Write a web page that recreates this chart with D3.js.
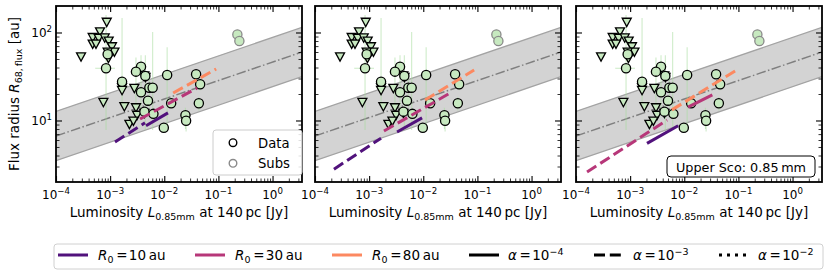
<!DOCTYPE html>
<html><head><meta charset="utf-8">
<script src="https://cdn.jsdelivr.net/npm/d3@7"></script>
<style>body{margin:0;background:#fff;} svg{font-family:"DejaVu Sans",sans-serif;}</style>
</head><body><svg id="c" width="831" height="276"></svg>
<script>
// ---------- DATA ----------
// detections (circles)
const detL = [9.0e-4, 8.4e-4, 3.72e-3, 3.0e-3, 4.47e-3, 1.66e-3, 5.3e-3, 6.1e-3, 3.72e-3, 5.0e-3, 4.3e-3, 6.3e-3, 1.13e-2, 1.34e-2, 3.87e-2, 4.6e-2, 4.35e-2, 2.46e-2, 2.53e-2, 9.8e-3];
const detR = [56.5, 39.2, 40.8, 35.9, 32.1, 27.6, 23.6, 23.6, 20.9, 16.8, 12.6, 11.9, 32.9, 15.7, 33.5, 25.8, 15.7, 11.5, 9.95, 8.28];
// upper limits (down triangles)
const ulL = [8.65e-4, 6.5e-4, 4.76e-4, 6.15e-4, 7.94e-4, 4.76e-4, 5.48e-4, 9.4e-4, 1.08e-3, 1.2e-3, 9.0e-4, 9.3e-4, 2.9e-4, 1.66e-3, 1.66e-3, 2.8e-3, 4.28e-3, 4.5e-3, 7.5e-4, 1.83e-3, 3.0e-3, 4.3e-3, 3.14e-3, 2.27e-3, 2.69e-3];
const ulR = [131, 102, 88, 86, 87, 74, 74, 80, 69, 60, 60, 51, 53, 23.6, 22.0, 23.2, 32.3, 31, 16.1, 14.4, 14.0, 12.1, 11.5, 9.06, 9.87];
// substructured discs
const subL = [0.224, 0.244];
const subR = [95, 80];
// vertical error bars
const errL  = [8.4e-4, 1.66e-3, 6.1e-3, 1.13e-2, 3.0e-3, 3.72e-3, 4.47e-3, 2.46e-2, 2.53e-2, 9.8e-3, 4.6e-2, 4.35e-2, 5.3e-3];
const errLo = [7.8, 15, 7.8, 7.4, 10.7, 12, 7.8, 8, 7.5, 7.4, 22, 13, 14];
const errHi = [158, 146, 101, 68, 52, 55, 55, 14, 13, 9.5, 30, 18.5, 30];
// horizontal error bars
const xerrR = [39.2];
const xerrLo = [5.3e-4];
const xerrHi = [1.23e-3];
// size-luminosity relation: R = A * L^B, scatter in dex
const relA = 46.1, relB = 0.21, relScatter = 0.28;
// model tracks
const tracksPanel = [0,0,0,0, 1,1,1,1, 2,2,2,2];
const tracksR0    = [10,10,30,80, 10,10,30,80, 30,30,10,80];
const tracksAlpha = [-3,-4,-3,-3, -3,-4,-3,-3, -3,-4,-4,-3];
const tracksLstart = [1.23e-3, 4.6e-3, 3.57e-3, 1.46e-2, 2.24e-4, 3.28e-3, 1.88e-3, 1.08e-2, 1.6e-4, 1.17e-2, 2.05e-3, 5.9e-3];
const tracksLend   = [4.4e-3, 1.17e-2, 4.04e-2, 9.1e-2, 1.66e-3, 9.5e-3, 3.4e-2, 8.7e-2, 4.8e-3, 3.3e-2, 7.7e-3, 8.7e-2];
const tracksRstart = [5.7, 8.7, 10.4, 20.5, 2.8, 7.4, 7.6, 17.1, 2.6, 14.2, 5.5, 13.2];
const tracksRend   = [9.4, 12.2, 23.4, 38.5, 6.3, 10.7, 21.1, 37.5, 10.1, 19.5, 8.7, 36.5];
// tick labels
const xTickExp = [-4, -3, -2, -1, 0];
const yTickExp = [1, 2];
const legendR0 = [10, 30, 80];
const legendAlpha = [-4, -3, -2];

// ---------- STYLE ----------
const colorR0 = {10: "#51127c", 30: "#b73779", 80: "#fc8961"};
const dashAlpha = {"-4": null, "-3": "11,4.8", "-2": "3,5"};
const ptFill = "#c7e9c0";

const svg = d3.select("#c");
const panelLeft = [56, 315, 576], pw = 246, pTop = 6, ph = 176;
const x = d3.scaleLog().domain([1e-4, 3.5]).range([0, pw]);
const y = d3.scaleLog().domain([2, 200]).range([ph, 0]);

const xMajor = xTickExp.map(e => Math.pow(10, e));
const xMinor = [];
for (let e = -4; e <= 0; e++) for (let k = 2; k <= 9; k++) { const v = k * Math.pow(10, e); if (v < 3.5) xMinor.push(v); }
const yMajor = yTickExp.map(e => Math.pow(10, e));
const yMinor = [];
for (let e = 0; e <= 2; e++) for (let k = 2; k <= 9; k++) { const v = k * Math.pow(10, e); if (v > 2 && v < 200) yMinor.push(v); }

const triPath = "M0,4.4L-4.5,-3.9L4.5,-3.9Z";

panelLeft.forEach((pl, p) => {
  const g = svg.append("g").attr("transform", `translate(${pl},${pTop})`);
  g.append("clipPath").attr("id", "clip" + p).append("rect").attr("width", pw).attr("height", ph);
  const inner = g.append("g").attr("clip-path", `url(#clip${p})`);

  // band
  const bL = x.domain();
  const rel = (L, off) => relA * Math.pow(L, relB) * Math.pow(10, off);
  const area = d3.area().x(d => x(d)).y0(d => y(rel(d, -relScatter))).y1(d => y(rel(d, relScatter)));
  inner.append("path").datum(bL).attr("d", area).attr("fill", "#d3d3d3");
  [-relScatter, relScatter].forEach(off => {
    inner.append("path").datum(bL).attr("d", d3.line().x(d => x(d)).y(d => y(rel(d, off))))
      .attr("stroke", "#a3a3a3").attr("stroke-width", 1.3).attr("fill", "none");
  });
  inner.append("path").datum(bL).attr("d", d3.line().x(d => x(d)).y(d => y(rel(d, 0))))
    .attr("stroke", "#7f7f7f").attr("stroke-width", 1.5).attr("fill", "none").attr("stroke-dasharray", "9.6,2.4,1.5,2.4");

  // error bars
  errL.forEach((L, i) => {
    inner.append("line").attr("x1", x(L)).attr("x2", x(L)).attr("y1", y(errLo[i])).attr("y2", y(errHi[i]))
      .attr("stroke", "#a8dc9f").attr("stroke-opacity", 0.55).attr("stroke-width", 1.1);
  });
  xerrR.forEach((R, i) => {
    inner.append("line").attr("x1", x(xerrLo[i])).attr("x2", x(xerrHi[i])).attr("y1", y(R)).attr("y2", y(R))
      .attr("stroke", "#a8dc9f").attr("stroke-opacity", 0.55).attr("stroke-width", 1.1);
  });

  // upper limits
  ulL.forEach((L, i) => {
    inner.append("path").attr("d", triPath).attr("transform", `translate(${x(L)},${y(ulR[i])})`)
      .attr("fill", ptFill).attr("stroke", "#000").attr("stroke-width", 1.3);
  });
  // detections
  detL.forEach((L, i) => {
    inner.append("circle").attr("cx", x(L)).attr("cy", y(detR[i])).attr("r", 4.6)
      .attr("fill", ptFill).attr("stroke", "#000").attr("stroke-width", 1.3);
  });
  subL.forEach((L, i) => {
    inner.append("circle").attr("cx", x(L)).attr("cy", y(subR[i])).attr("r", 4.6)
      .attr("fill", ptFill).attr("stroke", "#8a8a8a").attr("stroke-width", 1.3);
  });

  // model tracks
  tracksPanel.forEach((tp, i) => {
    if (tp !== p) return;
    const pts = [[tracksLstart[i], tracksRstart[i]], [tracksLend[i], tracksRend[i]]];
    const l = inner.append("path").datum(pts).attr("d", d3.line().x(d => x(d[0])).y(d => y(d[1])))
      .attr("stroke", colorR0[tracksR0[i]]).attr("stroke-width", 3).attr("fill", "none");
    const da = dashAlpha[String(tracksAlpha[i])];
    if (da) l.attr("stroke-dasharray", da);
  });

  // ticks (inward, all sides)
  const tk = (axis, tr, vals, size, w) => {
    const a = g.append("g").attr("transform", tr).call(axis.tickValues(vals).tickSize(-size).tickFormat(""));
    a.select(".domain").remove();
    a.selectAll("line").attr("stroke", "#000").attr("stroke-width", w);
  };
  tk(d3.axisBottom(x), `translate(0,${ph})`, xMajor, 6, 1.1);
  tk(d3.axisBottom(x), `translate(0,${ph})`, xMinor, 3.5, 0.8);
  tk(d3.axisTop(x), `translate(0,0)`, xMajor, 6, 1.1);
  tk(d3.axisTop(x), `translate(0,0)`, xMinor, 3.5, 0.8);
  tk(d3.axisLeft(y), `translate(0,0)`, yMajor, 6, 1.1);
  tk(d3.axisLeft(y), `translate(0,0)`, yMinor, 3.5, 0.8);
  tk(d3.axisRight(y), `translate(${pw},0)`, yMajor, 6, 1.1);
  tk(d3.axisRight(y), `translate(${pw},0)`, yMinor, 3.5, 0.8);

  // frame
  g.append("rect").attr("width", pw).attr("height", ph).attr("fill", "none").attr("stroke", "#000").attr("stroke-width", 1.8);

  // x tick labels
  xTickExp.forEach(e => {
    const t = g.append("text").attr("x", x(Math.pow(10, e))).attr("y", ph + 16.5).attr("text-anchor", "middle").attr("font-size", 12);
    t.append("tspan").text("10");
    t.append("tspan").attr("dy", -5).attr("font-size", 8.6).text(e < 0 ? "\u2212" + (-e) : String(e));
  });
  // y tick labels
  if (p === 0) {
    yTickExp.forEach(e => {
      const t = g.append("text").attr("x", -4).attr("y", y(Math.pow(10, e)) + 4.5).attr("text-anchor", "end").attr("font-size", 12);
      t.append("tspan").text("10");
      t.append("tspan").attr("dy", -5).attr("font-size", 8.6).text(String(e));
    });
  }
  // x label
  const xl = g.append("text").attr("x", pw / 2).attr("y", ph + 35).attr("text-anchor", "middle").attr("font-size", 13.5);
  xl.append("tspan").text("Luminosity ");
  xl.append("tspan").attr("font-style", "italic").text("L");
  xl.append("tspan").attr("dy", 3).attr("font-size", 9.5).text("0.85mm");
  xl.append("tspan").attr("dy", -3).text(" at 140\u2009pc [Jy]");

  if (p === 0) {
    const lg = g.append("g");
    lg.append("rect").attr("x", 157).attr("y", 124).attr("width", 89).attr("height", 45).attr("rx", 3)
      .attr("fill", "#fff").attr("fill-opacity", 0.85).attr("stroke", "#cccccc").attr("stroke-width", 1);
    lg.append("circle").attr("cx", 177).attr("cy", 136.7).attr("r", 3.8).attr("fill", "none").attr("stroke", "#000").attr("stroke-width", 1.4);
    lg.append("circle").attr("cx", 177).attr("cy", 157.3).attr("r", 3.8).attr("fill", "none").attr("stroke", "#8a8a8a").attr("stroke-width", 1.4);
    lg.append("text").attr("x", 202).attr("y", 141.5).attr("font-size", 13.2).text("Data");
    lg.append("text").attr("x", 202).attr("y", 162).attr("font-size", 13.2).text("Subs");
  }
  if (p === 2) {
    g.append("rect").attr("x", 91).attr("y", 150).attr("width", 148).attr("height", 21).attr("rx", 4)
      .attr("fill", "#fff").attr("stroke", "#000").attr("stroke-width", 1);
    g.append("text").attr("x", 165).attr("y", 165.5).attr("text-anchor", "middle").attr("font-size", 12.8).text("Upper Sco: 0.85\u2009mm");
  }
});

// y label
const yl = svg.append("text").attr("transform", "translate(19,94) rotate(-90)").attr("text-anchor", "middle").attr("font-size", 13.5);
yl.append("tspan").text("Flux radius ");
yl.append("tspan").attr("font-style", "italic").text("R");
yl.append("tspan").attr("dy", 3).attr("font-size", 9.5).text("68,\u2009flux");
yl.append("tspan").attr("dy", -3).text(" [au]");

// bottom legend
const bl = svg.append("g");
bl.append("rect").attr("x", 54).attr("y", 244).attr("width", 769).attr("height", 25).attr("rx", 3)
  .attr("fill", "#fff").attr("stroke", "#d0d0d0").attr("stroke-width", 1);
const r0X = [58, 195, 332];
legendR0.forEach((r, i) => {
  bl.append("line").attr("x1", r0X[i]).attr("x2", r0X[i] + 30).attr("y1", 255).attr("y2", 255)
    .attr("stroke", colorR0[r]).attr("stroke-width", 3);
  const t = bl.append("text").attr("x", r0X[i] + 40).attr("y", 260).attr("font-size", 13.5);
  t.append("tspan").attr("font-style", "italic").text("R");
  t.append("tspan").attr("dy", 3).attr("font-size", 9.5).text("0");
  t.append("tspan").attr("dy", -3).text("\u2009=\u200a" + r + "\u2009au");
});
const aX = [469, 594, 719];
legendAlpha.forEach((a, i) => {
  const l = bl.append("line").attr("x1", aX[i]).attr("x2", aX[i] + 30).attr("y1", 255).attr("y2", 255)
    .attr("stroke", "#000").attr("stroke-width", 3);
  const da = dashAlpha[String(a)];
  if (da) l.attr("stroke-dasharray", da);
  const t = bl.append("text").attr("x", aX[i] + 39).attr("y", 260).attr("font-size", 13.5);
  t.append("tspan").attr("font-style", "italic").text("\u03b1");
  t.append("tspan").text("\u2009=\u200a10");
  t.append("tspan").attr("dy", -5.5).attr("font-size", 9.5).text("\u2212" + (-a));
});
</script></body></html>
